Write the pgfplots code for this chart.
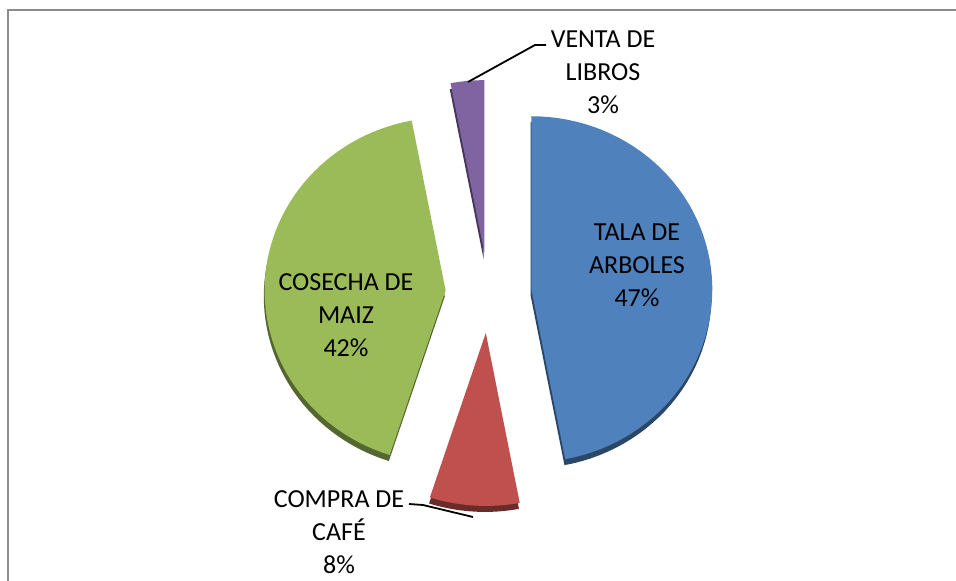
\documentclass[border=0pt]{standalone}
\usepackage{pgfplots}
\pgfplotsset{compat=1.18}
\usepackage{fontspec}
\setmainfont{Carlito}
\definecolor{Ctala}{HTML}{4F81BD}
\definecolor{Ccafe}{HTML}{C0504D}
\definecolor{Cmaiz}{HTML}{9BBB59}
\definecolor{Clibros}{HTML}{8064A2}
\definecolor{Cframe}{HTML}{8C8C8C}

% slice values (percent), clockwise from 12 o'clock
\def\vTala{47}
\def\vCafe{8}
\def\vMaiz{42}
\def\vLibros{3}

% pie geometry in pixel units (y grows downwards)
\def\cx{488.5}\def\cy{293}
\def\rx{181}\def\ry{173}

\pgfmathsetmacro\aA{90}
\pgfmathsetmacro\aB{\aA-3.6*\vTala}
\pgfmathsetmacro\aC{\aB-3.6*\vCafe}
\pgfmathsetmacro\aD{\aC-3.6*\vMaiz}
\pgfmathsetmacro\aE{\aD-3.6*\vLibros}

\newcommand\slice[3]{% start, end, colour
  \pgfmathsetmacro\mid{(#1+#2)/2}
  \pgfmathsetmacro\ax{\cx+43*cos(\mid)}
  \pgfmathsetmacro\ay{\cy-40*sin(\mid)}
  \pgfmathsetmacro\axd{\ax-0.8}
  \pgfmathsetmacro\ayd{\ay+6}
  \edef\doslice{%
    \noexpand\addplot[draw=none, fill=#3!55!black, domain=#2:#1, samples=60, variable=\noexpand\t]
      ({\axd+\rx*cos(\noexpand\t)}, {\ayd-\ry*sin(\noexpand\t)}) -- (\axd,\ayd) -- cycle;
    \noexpand\addplot[draw=none, fill=#3, domain=#2:#1, samples=60, variable=\noexpand\t]
      ({\ax+\rx*cos(\noexpand\t)}, {\ay-\ry*sin(\noexpand\t)}) -- (\ax,\ay) -- cycle;
  }\doslice}

\begin{document}
\begin{tikzpicture}
\begin{axis}[
  scale only axis,
  width=478pt, height=290.5pt,
  xmin=0, xmax=956, ymin=0, ymax=581,
  y dir=reverse,
  hide axis,
  clip=true,
]
\path (rel axis cs:0,0) rectangle (rel axis cs:1,1);
\draw[Cframe, line width=1pt] (8,581) -- (8,10) -- (956,10);

\slice{\aB}{\aA}{Ctala}
\slice{\aC}{\aB}{Ccafe}
\slice{\aD}{\aC}{Cmaiz}
\slice{\aE}{\aD}{Clibros}

% leader lines
\draw[black, line width=0.9pt] (546,45) -- (535,45) -- (468,82);
\draw[black, line width=0.9pt] (409,504) -- (423,505) -- (473,517);

\begin{scope}[every node/.style={align=center, text=black, font=\fontsize{13}{16.5}\selectfont}]
\node at (637,265) {TALA DE\\ARBOLES\\47\%};
\node at (346,315) {COSECHA DE\\MAIZ\\42\%};
\node at (339,532) {COMPRA DE\\CAFÉ\\8\%};
\node at (603,72) {VENTA DE\\LIBROS\\3\%};
\end{scope}
\end{axis}
\end{tikzpicture}
\end{document}
